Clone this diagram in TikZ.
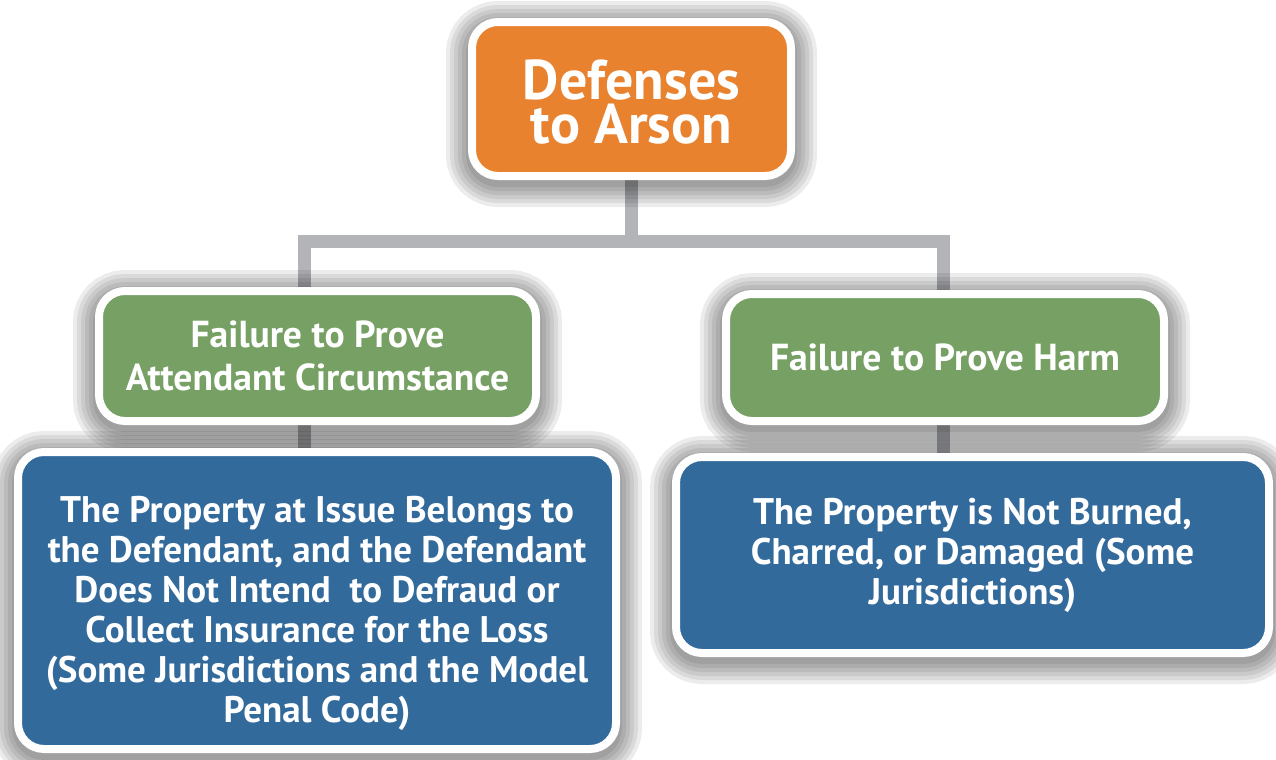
\documentclass[tikz,border=0pt]{standalone}
\usepackage{fontspec}
\setmainfont{PT Sans}
\usetikzlibrary{backgrounds,shadows}
\definecolor{arsonorange}{RGB}{232,130,46}
\definecolor{failgreen}{RGB}{118,160,100}
\definecolor{lossblue}{RGB}{51,106,156}
\definecolor{linkgray}{RGB}{178,180,183}
\tikzset{
  haze/.style={general shadow={draw=black,fill=none,opacity=0.075,line width=#1,shadow yshift=-2.5pt}},
  box/.style={draw=white,line width=4pt,rounded corners=13pt,align=center,text=white,inner sep=0pt,
    font=\bfseries\fontsize{18.5}{20}\selectfont,haze=26pt,haze=22pt,haze=18pt,haze=14pt,haze=10pt,haze=6pt},
  head/.style={box,fill=arsonorange,font=\bfseries\fontsize{28}{22}\selectfont},
  fail/.style={box,fill=failgreen,font=\bfseries\fontsize{18.8}{21.5}\selectfont},
  loss/.style={box,fill=lossblue},
  link/.style={draw=linkgray,line width=6.5pt,line join=miter}
}
\begin{document}
\begin{tikzpicture}[x=0.5pt,y=-0.5pt]
            \useasboundingbox (0,0) rectangle (1276,760);
            \node[head,minimum width=159.5pt,minimum height=77pt] (top) at (631.5,99) {\rule{0pt}{23pt}Defenses\\to Arson};
            \node[fail,minimum width=218.5pt,minimum height=65pt] (failL) at (317.5,356) {Failure to Prove\\Attendant Circumstance};
            \node[fail,minimum width=219pt,minimum height=63.5pt] (failR) at (945,357.5) {Failure to Prove Harm};
            \node[loss,minimum width=299pt,minimum height=148.5pt] (lossL) at (317,600.5) {\rule{0pt}{26.5pt}The Property at Issue Belongs to\\the Defendant, and the Defendant\\Does Not Intend\ \ to Defraud or\\Collect Insurance for the Loss\\(Some Jurisdictions and the Model\\Penal Code)};
            \node[loss,minimum width=296.5pt,minimum height=98pt] (lossR) at (972.5,555) {The Property is Not Burned,\\Charred, or Damaged (Some\\Jurisdictions)};
            \coordinate (jl) at (304,241.5);
            \coordinate (jr) at (943.5,241.5);
            \begin{scope}[on background layer]
            \draw[link] (top) -- (top |- jl);
            \draw[link] (jl |- lossL.center) -- (jl) -- (jr) -- (jr |- lossR.center);
            \end{scope}
        \end{tikzpicture}
\end{document}
